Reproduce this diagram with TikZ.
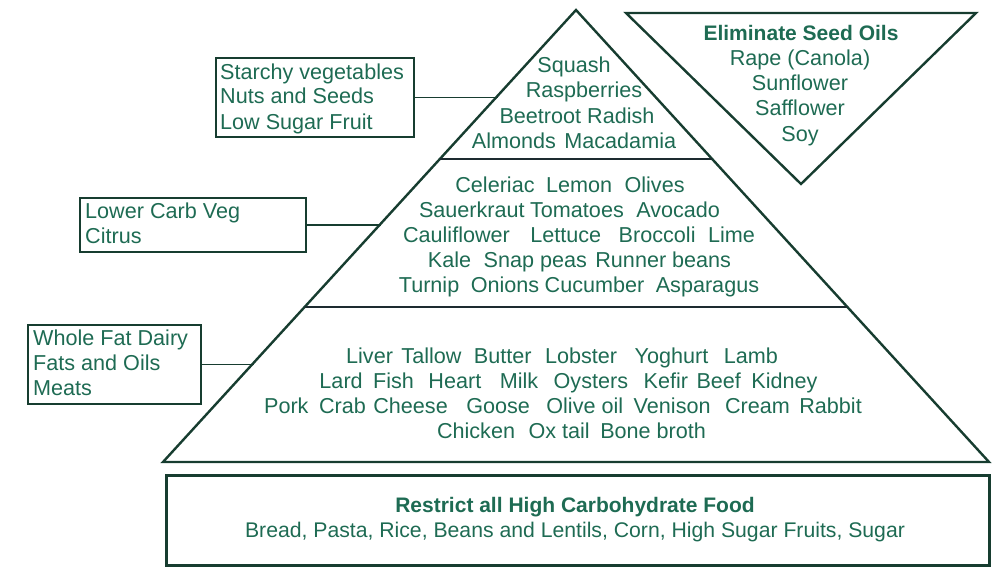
\documentclass[tikz,border=0pt]{standalone}
\usepackage{fontspec}
\usetikzlibrary{calc}
\setmainfont{Liberation Sans}
\definecolor{txt}{HTML}{1E6B53}
\definecolor{ln}{HTML}{173D30}
\definecolor{dv}{HTML}{1D2B30}
\newcommand\g[1]{\hspace{#1pt}}
\begin{document}
\begin{tikzpicture}[x=1pt,y=-1pt,
  lab/.style={text=txt,font=\fontsize{21.6}{25}\selectfont,inner sep=0pt,anchor=base},
  labl/.style={lab,anchor=base west,align=left},
  box/.style={draw=ln,line width=1.6pt,inner sep=0pt,anchor=north west},
  conn/.style={draw=ln,line width=1.4pt},
  outline/.style={draw=ln,line width=2.4pt,line join=miter}]
\useasboundingbox (0,0) rectangle (1000,575);
% pyramid
\coordinate (apex) at (576,10);
\coordinate (bl) at (163,462);
\coordinate (br) at (989,462);
\draw[outline] (apex) -- (bl) -- (br) -- cycle;
\coordinate (d1l) at ($(apex)!0.330!(bl)$);
\coordinate (d1r) at ($(apex)!0.330!(br)$);
\coordinate (d2l) at ($(apex)!0.657!(bl)$);
\coordinate (d2r) at ($(apex)!0.657!(br)$);
\draw[draw=dv,line width=2.4pt] (d1l) -- (d1r);
\draw[draw=dv,line width=2.4pt] (d2l) -- (d2r);
% inverted triangle
\coordinate (itl) at (626,13);
\coordinate (itr) at (976,13);
\coordinate (itb) at (801,184);
\draw[outline] (itl) -- (itr) -- (itb) -- cycle;
% bottom box
\node[box,line width=2.6pt,minimum width=823,minimum height=90] (bbox) at (165,474) {};
\node[lab,font=\fontsize{21}{25}\selectfont\bfseries] (bt1) at (575,512) {Restrict all High Carbohydrate Food};
\node[lab,font=\fontsize{21.2}{25}\selectfont] (bt2) at (575,537) {Bread, Pasta, Rice, Beans and Lentils, Corn, High Sugar Fruits, Sugar};
% seed oils
\node[lab,font=\fontsize{21}{25}\selectfont\bfseries] (s1) at (801,41) {Eliminate Seed Oils};
\node[lab] (s2) at (800,66) {Rape (Canola)};
\node[lab] (s3) at (800,91) {Sunflower};
\node[lab] (s4) at (800,116) {Safflower};
\node[lab] (s5) at (800,141) {Soy};
% top section
\node[lab] (a1) at (574,73) {Squash};
\node[lab] (a2) at (584,98) {Raspberries};
\node[lab] (a3) at (577,123) {Beetroot Radish};
\node[lab] (a4) at (574,148) {Almonds\g{8.5}Macadamia};
% middle section
\node[lab] (m1) at (570,192) {Celeriac\g{11.5}Lemon\g{12.5}Olives};
\node[lab] (m2) at (569.5,217) {Sauerkraut\g{5.5}Tomatoes\g{12.5}Avocado};
\node[lab] (m3) at (579,242) {Cauliflower\g{20.5}Lettuce\g{17.5}Broccoli\g{12.5}Lime};
\node[lab] (m4) at (579.5,267) {Kale\g{12.5}Snap peas\g{8.5}Runner beans};
\node[lab] (m5) at (579,292) {Turnip\g{11.5}Onions\g{5.5}Cucumber\g{11.5}Asparagus};
% bottom section
\node[lab] (f1) at (562,363) {Liver\g{8.5}Tallow\g{12.5}Butter\g{13.5}Lobster\g{17.5}Yoghurt\g{15.5}Lamb};
\node[lab] (f2) at (568.5,388) {Lard\g{10.5}Fish\g{14.5}Heart\g{18.5}Milk\g{15.5}Oysters\g{15.5}Kefir\g{8.5}Beef\g{10.5}Kidney};
\node[lab] (f3) at (563,413) {Pork\g{10.5}Crab\g{7.5}Cheese\g{18.5}Goose\g{16.5}Olive oil\g{10.5}Venison\g{14.5}Cream\g{9.5}Rabbit};
\node[lab] (f4) at (571.5,438) {Chicken\g{13.5}Ox tail\g{10.5}Bone broth};
% side boxes
\node[box,minimum width=198,minimum height=79] (b1) at (215,57) {};
\node[labl] (b1t) at (220,129) {Starchy vegetables\\Nuts and Seeds\\Low Sugar Fruit};
\node[box,minimum width=226,minimum height=54] (b2) at (79,197) {};
\node[labl] (b2t) at (85,243) {Lower Carb Veg\\Citrus};
\node[box,minimum width=173,minimum height=79] (b3) at (27,324) {};
\node[labl] (b3t) at (33,395) {Whole Fat Dairy\\Fats and Oils\\Meats};
% connectors
\coordinate (c1) at ($(apex)!0.190!(bl)$);
\coordinate (c2) at ($(apex)!0.473!(bl)$);
\coordinate (c3) at ($(apex)!0.779!(bl)$);
\draw[conn] (b1.east) -- (b1.east -| c1);
\draw[conn] (b2.east) -- (b2.east -| c2);
\draw[conn] (b3.east) -- (b3.east -| c3);
\end{tikzpicture}
\end{document}
